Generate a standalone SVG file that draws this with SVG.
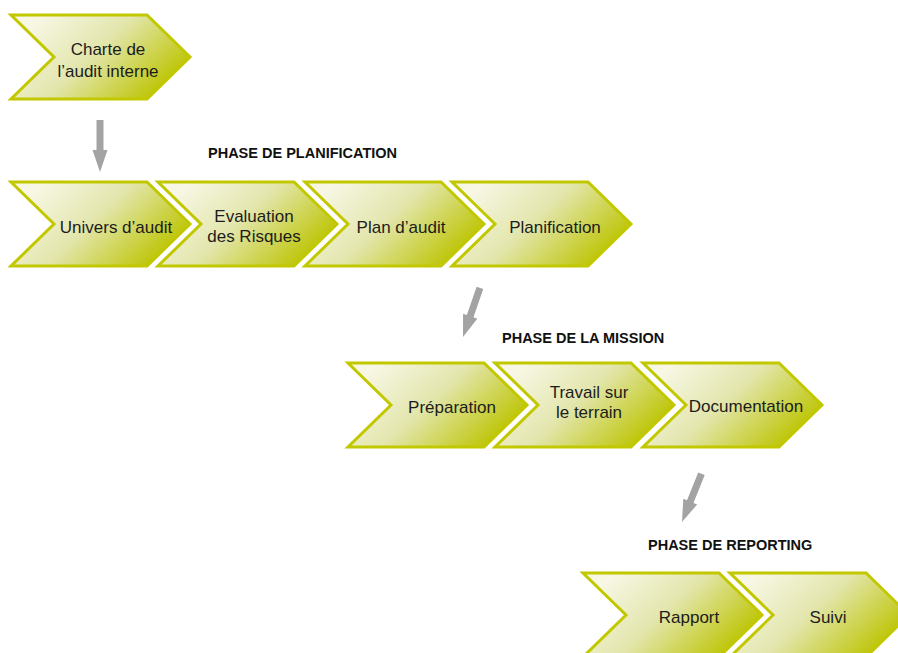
<svg xmlns="http://www.w3.org/2000/svg" xmlns:xlink="http://www.w3.org/1999/xlink" width="898" height="653" viewBox="0 0 898 653">
<style>
.lbl{font-family:"Liberation Sans",Arial,sans-serif;font-size:17px;fill:#1c1c1c;text-anchor:middle}
.ph{font-family:"Liberation Sans",Arial,sans-serif;font-size:14.5px;font-weight:bold;fill:#111}
.arr{fill:#a3a3a3}
</style>
<defs>
<linearGradient id="g" x1="0.05" y1="0.25" x2="0.95" y2="0.7">
<stop offset="0" stop-color="#f7f7e4"/>
<stop offset="0.45" stop-color="#e3e6ad"/>
<stop offset="1" stop-color="#bcc400"/>
</linearGradient>
<path id="chev" d="M0,0 L136,0 L179,42 L136,84 L0,84 L43,42 Z" fill="url(#g)" stroke="#c2c800" stroke-width="3" stroke-linejoin="miter"/>
<polygon id="arrow" class="arr" points="-3.5,-52 3.5,-52 3.5,-22 7.5,-22 0,0 -7.5,-22 -3.5,-22"/>
</defs>
<rect width="898" height="653" fill="#fff"/>

<g id="connectors">
<use xlink:href="#arrow" href="#arrow" transform="translate(100,172)"/>
<use xlink:href="#arrow" href="#arrow" transform="translate(463,337) rotate(19)"/>
<use xlink:href="#arrow" href="#arrow" transform="translate(682,522) rotate(22)"/>
</g>

<g id="headings">
<text class="ph" x="208" y="158">PHASE DE PLANIFICATION</text>
<text class="ph" x="502" y="343">PHASE DE LA MISSION</text>
<text class="ph" x="648" y="550">PHASE DE REPORTING</text>
</g>

<g id="charte"><use href="#chev" xlink:href="#chev" x="11" y="15"/>
<text class="lbl" x="108" y="55">Charte de</text><text class="lbl" x="108" y="77">l’audit interne</text></g>

<g id="univers"><use href="#chev" xlink:href="#chev" x="11" y="182"/>
<text class="lbl" x="116" y="233">Univers d’audit</text></g>
<g id="evaluation"><use href="#chev" xlink:href="#chev" x="158" y="182"/>
<text class="lbl" x="254" y="222">Evaluation</text><text class="lbl" x="254" y="242">des Risques</text></g>
<g id="plan"><use href="#chev" xlink:href="#chev" x="305" y="182"/>
<text class="lbl" x="401" y="233">Plan d’audit</text></g>
<g id="planification"><use href="#chev" xlink:href="#chev" x="452" y="182"/>
<text class="lbl" x="555" y="233">Planification</text></g>

<g id="preparation"><use href="#chev" xlink:href="#chev" x="348" y="363"/>
<text class="lbl" x="452" y="413">Préparation</text></g>
<g id="travail"><use href="#chev" xlink:href="#chev" x="495" y="363"/>
<text class="lbl" x="589" y="398">Travail sur</text><text class="lbl" x="589" y="418">le terrain</text></g>
<g id="documentation"><use href="#chev" xlink:href="#chev" x="643" y="363"/>
<text class="lbl" x="746" y="412">Documentation</text></g>

<g id="rapport"><use href="#chev" xlink:href="#chev" x="583" y="573"/>
<text class="lbl" x="689" y="623">Rapport</text></g>
<g id="suivi"><use href="#chev" xlink:href="#chev" x="730" y="573"/>
<text class="lbl" x="828" y="623">Suivi</text></g>
</svg>
